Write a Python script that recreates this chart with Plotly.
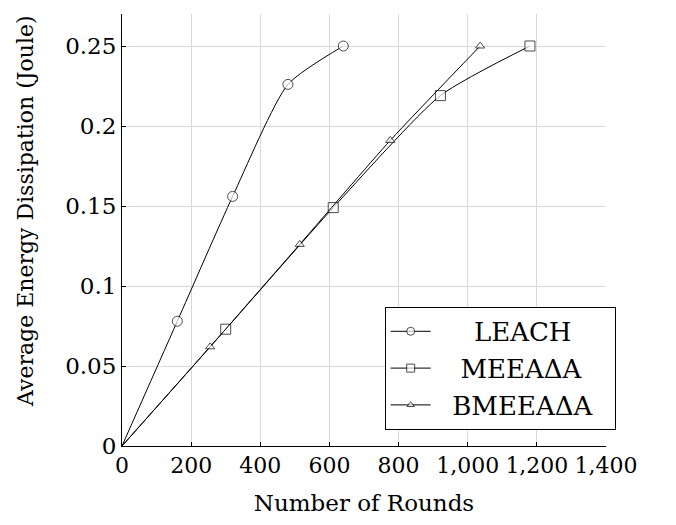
import plotly.graph_objects as go

leach_x = [0, 160, 320, 480, 640]
leach_y = [0, 0.078, 0.156, 0.226, 0.25]
meea_x = [0, 300, 611, 921, 1180]
meea_y = [0, 0.073, 0.149, 0.219, 0.25]
bmeea_x = [0, 255, 514, 776, 1036]
bmeea_y = [0, 0.062, 0.126, 0.191, 0.25]

series_names = ["LEACH", "MEEAΔA", "BMEEAΔA"]

x_ticks = [0, 200, 400, 600, 800, 1000, 1200, 1400]
y_ticks = [0, 0.05, 0.1, 0.15, 0.2, 0.25]
y_ticktext = ["0", "0.05", "0.1", "0.15", "0.2", "0.25"]

FONT = "DejaVu Serif"
NB = "\u00a0"
# padding so legend labels appear centred, as in the reference
legend_labels = [
    NB * 4 + "\u2009" + series_names[0],
    NB * 3 + series_names[1],
    NB * 2 + series_names[2] + NB * 2,
]

fig = go.Figure()

def add(name, xs, ys, symbol, size):
    sizes = [0] + [size] * (len(xs) - 1)
    fig.add_trace(go.Scatter(
        x=xs, y=ys, name=name, mode="lines+markers",
        line=dict(color="black", width=1, shape="spline", smoothing=0.6),
        marker=dict(symbol=symbol, size=sizes, color="white",
                    line=dict(color="black", width=1)),
    ))

add(legend_labels[0], leach_x, leach_y, "circle", 10)
add(legend_labels[1], meea_x, meea_y, "square", 10)
add(legend_labels[2], bmeea_x, bmeea_y, "triangle-up", 8)

fig.update_layout(
    width=676, height=525,
    margin=dict(l=114, r=78, t=6, b=87),
    paper_bgcolor="white", plot_bgcolor="white",
    font=dict(family=FONT, size=22, color="black"),
    showlegend=True,
    legend=dict(
        x=1.02, y=0.322, xanchor="right", yanchor="top",
        bgcolor="white", bordercolor="black", borderwidth=1,
        font=dict(family=FONT, size=26),
        itemwidth=40, tracegroupgap=0,
    ),
    annotations=[dict(
        text="Average Energy Dissipation (Joule)",
        xref="paper", yref="paper",
        x=(17 - 114) / 484, y=(438 - 203) / 432,
        xanchor="center", yanchor="middle",
        textangle=-90, showarrow=False,
        font=dict(family=FONT, size=22),
    )],
)

fig.update_xaxes(
    range=[0, 1400], tickvals=x_ticks, tickformat=",d",
    showgrid=True, gridcolor="#d9d9d9", gridwidth=1,
    showline=True, linecolor="black", linewidth=1, mirror=False,
    ticks="inside", ticklen=4, tickcolor="black",
    zeroline=False,
    tickfont=dict(family=FONT, size=22),
    title=dict(text="Number of Rounds", font=dict(family=FONT, size=23), standoff=17),
)
fig.update_yaxes(
    range=[0, 0.27], tickvals=y_ticks, ticktext=y_ticktext,
    showgrid=True, gridcolor="#d9d9d9", gridwidth=1,
    showline=True, linecolor="black", linewidth=1, mirror=False,
    ticks="inside", ticklen=4, tickcolor="black",
    zeroline=False,
    tickfont=dict(family=FONT, size=23),
)

fig.write_html("out.html")
